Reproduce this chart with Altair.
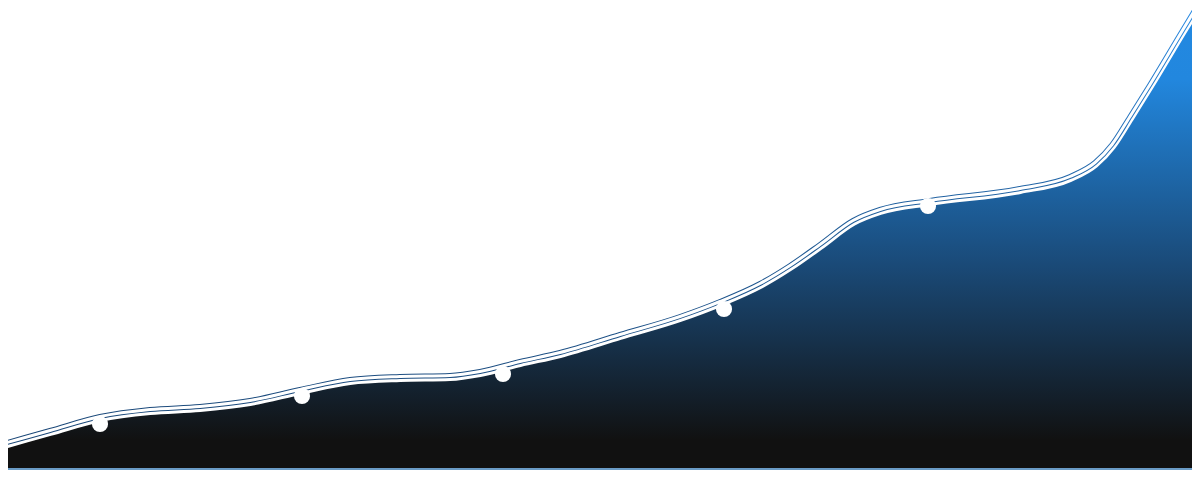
import altair as alt
import pandas as pd

# curve (x position, height above the bottom)
curve_x = [0, 50, 100, 150, 200, 250, 300, 350, 400, 450, 480, 520, 560, 620,
           680, 720, 760, 790, 820, 853, 880, 930, 1020, 1070, 1095, 1112,
           1130, 1150, 1183, 1200]
curve_y = [28, 42, 56, 63, 66, 72, 83, 93, 96, 97, 101, 111, 120, 138,
           156, 171, 189, 207, 228, 252, 263, 272, 284, 296, 310, 328,
           356, 388, 443, 471]

# highlighted points
pt_x = [100, 302, 503, 724, 928]
pt_y = [54, 82, 104, 169, 272]

W = 1184
H = 462

curve = pd.DataFrame({"x": curve_x, "y": curve_y})
# the line stack sits a few px above the fill edge
curve["c"] = curve["y"] + 4
points = pd.DataFrame({"x": pt_x, "y": pt_y})

xs = alt.Scale(domain=[8, 1192], nice=False, zero=False)
ys = alt.Scale(domain=[8, 470], nice=False, zero=False)

fill_grad = alt.Gradient(
    gradient="linear", x1=0, x2=0, y1=0, y2=1,
    stops=[alt.GradientStop(offset=0.0, color="#2389e2"),
           alt.GradientStop(offset=0.16, color="#2287de"),
           alt.GradientStop(offset=0.55, color="#1a4a78"),
           alt.GradientStop(offset=0.92, color="#111111"),
           alt.GradientStop(offset=1.0, color="#111111")])

line_grad = alt.Gradient(
    gradient="linear", x1=0, x2=0, y1=0, y2=1,
    stops=[alt.GradientStop(offset=0.0, color="#2a8ce6"),
           alt.GradientStop(offset=0.5, color="#205c98"),
           alt.GradientStop(offset=1.0, color="#1a4676")])

base = alt.Chart(curve).encode(
    x=alt.X("x:Q", scale=xs, axis=None),
    y=alt.Y("c:Q", scale=ys, axis=None),
)

area = base.mark_area(interpolate="monotone", color=fill_grad, clip=True)
# white gap, outer blue band, inner white stripe -> blue / white / blue / white
gap = base.mark_line(interpolate="monotone", color="white", strokeWidth=8, clip=True)
band = base.mark_line(interpolate="monotone", color=line_grad, strokeWidth=5,
                      yOffset=-1.5, clip=True)
mid = base.mark_line(interpolate="monotone", color="white", strokeWidth=3,
                     yOffset=-1.5, clip=True)

dots = alt.Chart(points).mark_point(
    filled=True, color="white", opacity=1, size=260, shape="circle"
).encode(
    x=alt.X("x:Q", scale=xs, axis=None),
    y=alt.Y("y:Q", scale=ys, axis=None),
)

bottom = alt.Chart(points).mark_rule(color="#6a9cc6", strokeWidth=2).encode(
    x=alt.value(0), x2=alt.value(W), y=alt.value(H - 1)
)

chart = alt.layer(area, gap, band, mid, dots, bottom).properties(
    width=W, height=H, padding=0, autosize=alt.AutoSizeParams(type="none")
).configure_view(stroke=None)

chart.save("out.html", embed_options={"renderer": "svg", "actions": False})
